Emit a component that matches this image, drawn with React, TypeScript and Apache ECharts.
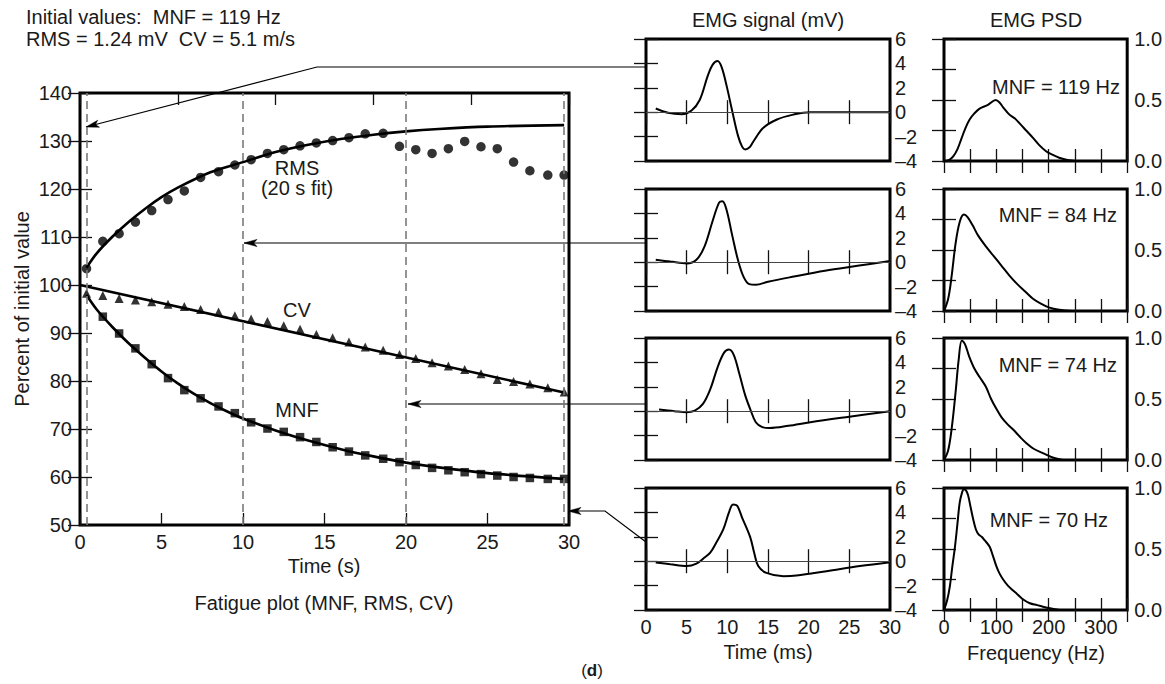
import React, { useEffect, useRef } from 'react';
import * as echarts from 'echarts';

// ---------------- data ----------------
const sampleTimes = [0.4, 1.4, 2.4, 3.4, 4.4, 5.4, 6.4, 7.4, 8.5, 9.5, 10.5, 11.5, 12.5, 13.5, 14.5, 15.5, 16.5, 17.5, 18.6, 19.6, 20.6, 21.6, 22.6, 23.6, 24.6, 25.6, 26.6, 27.6, 28.7, 29.7];
const rmsValues = [103.4, 109.1, 110.7, 113.1, 115.5, 117.8, 119.6, 122.4, 123.6, 125.0, 126.1, 127.4, 128.2, 129.0, 129.6, 130.1, 130.7, 131.5, 131.6, 128.9, 128.2, 127.4, 128.4, 129.9, 128.8, 128.4, 125.6, 123.8, 122.9, 122.9];
const cvValues = [98.3, 97.8, 97.2, 96.9, 96.5, 96.0, 95.5, 94.9, 94.4, 93.6, 92.9, 92.4, 91.5, 90.8, 89.7, 89.0, 88.1, 87.1, 86.4, 85.5, 84.7, 83.8, 83.1, 82.4, 81.5, 80.3, 79.9, 79.4, 78.6, 77.7];
const mnfValues = [null, 93.4, 89.9, 86.8, 83.5, 80.6, 78.1, 76.4, 74.7, 73.3, 71.4, 70.1, 69.4, 68.3, 67.3, 66.2, 65.3, 64.5, 63.8, 63.1, 62.5, 61.9, 61.4, 61.0, 60.6, 60.3, 60.0, 59.8, 59.6, 59.6];

const rmsFitTimes = [0.4, 1, 2, 3, 4, 5, 6, 8, 10, 12, 14, 16, 18, 20, 22, 25, 29.7];
const rmsFitValues = [103.6, 106.5, 110.1, 113.2, 115.9, 118.3, 120.3, 123.5, 125.6, 127.7, 129.2, 130.4, 131.3, 132.0, 132.5, 133.0, 133.3];
const cvFitTimes = [0, 29.7];
const cvFitValues = [100, 77.6];
const mnfFitTimes = [0.4, 1, 2, 3, 4, 5, 6, 7, 8, 9, 10, 12, 14, 16, 18, 20, 22, 25, 29.7];
const mnfFitValues = [97.9, 95.0, 91.2, 87.8, 84.8, 82.0, 79.5, 77.3, 75.4, 73.7, 72.2, 69.7, 67.6, 65.8, 64.3, 63.0, 62.0, 60.8, 59.6];
const markedTimes = [0.4, 10, 20, 29.7];

// EMG signal (time ms, mV)
const emg1 = [[1.2, 0.3], [2.7, -0.05], [4.4, -0.16], [5.6, 0.14], [6.6, 1.0], [7.6, 3.0], [8.2, 3.9], [8.8, 4.2], [9.3, 3.7], [9.9, 2.2], [10.6, 0.1], [11.3, -1.9], [11.8, -2.8], [12.2, -3.05], [12.7, -2.9], [13.2, -2.4], [14.4, -1.3], [16.1, -0.6], [18.1, -0.2], [20.2, 0], [30, 0]];
const emg2 = [[1.2, 0.2], [3, 0.05], [5, -0.1], [6.2, 0.2], [7.2, 1.3], [8.2, 3.4], [9.0, 4.9], [9.4, 5.0], [9.9, 4.3], [10.6, 2.2], [11.3, 0.2], [12.0, -1.2], [12.7, -1.8], [13.5, -1.85], [15, -1.6], [18, -1.2], [22, -0.7], [26, -0.3], [30, 0.1]];
const emg3 = [[1.6, 0.13], [3.5, 0], [5.0, -0.08], [6.0, 0.05], [7.0, 0.6], [7.9, 1.8], [8.8, 3.6], [9.6, 4.8], [10.2, 5.05], [10.8, 4.6], [11.5, 3.0], [12.2, 1.3], [12.8, 0.2], [13.5, -0.9], [14.3, -1.3], [15.2, -1.38], [17.5, -1.2], [20.2, -0.9], [25, -0.45], [30, 0]];
const emg4 = [[1.2, -0.1], [3, -0.25], [5, -0.4], [6.2, -0.2], [7.2, 0.3], [7.9, 0.7], [8.7, 1.6], [9.5, 2.6], [10.2, 4.0], [10.7, 4.65], [11.2, 4.55], [11.8, 3.6], [12.8, 2.0], [13.3, 0.7], [13.8, -0.4], [14.8, -0.96], [16.9, -1.23], [18.5, -1.18], [22.2, -0.82], [26.3, -0.4], [30, -0.08]];

// EMG PSD (frequency Hz, normalised power)
const psd1 = [[0, 0], [10, 0.01], [18, 0.04], [26, 0.1], [33, 0.18], [41, 0.27], [49, 0.34], [58, 0.39], [68, 0.43], [84, 0.46], [99, 0.5], [106, 0.48], [113, 0.44], [125, 0.38], [135, 0.35], [144, 0.31], [157, 0.25], [170, 0.19], [182, 0.13], [195, 0.08], [208, 0.05], [220, 0.027], [236, 0.008], [252, 0]];
const psd2 = [[0, 0], [8, 0.1], [15, 0.3], [22, 0.55], [30, 0.73], [38, 0.79], [45, 0.77], [55, 0.7], [65, 0.62], [80, 0.53], [95, 0.45], [110, 0.37], [125, 0.29], [140, 0.22], [155, 0.16], [170, 0.1], [185, 0.06], [200, 0.03], [220, 0.01], [245, 0]];
const psd3 = [[0, 0], [8, 0.08], [15, 0.27], [22, 0.55], [28, 0.82], [34, 0.98], [40, 0.95], [48, 0.85], [58, 0.75], [68, 0.68], [80, 0.6], [90, 0.5], [100, 0.42], [110, 0.35], [122, 0.29], [132, 0.25], [145, 0.19], [157, 0.14], [172, 0.09], [189, 0.056], [205, 0.025], [227, 0]];
const psd4 = [[0, 0], [6, 0.08], [11, 0.19], [16, 0.36], [21, 0.52], [26, 0.72], [30, 0.88], [35, 0.97], [38, 0.99], [42, 0.98], [46, 0.94], [51, 0.84], [56, 0.74], [61, 0.66], [66, 0.62], [72, 0.6], [78, 0.57], [87, 0.52], [93, 0.45], [100, 0.36], [106, 0.3], [113, 0.25], [122, 0.2], [132, 0.16], [140, 0.13], [150, 0.09], [164, 0.055], [178, 0.04], [189, 0.027], [205, 0.012], [221, 0]];
const mnfLabels = ['MNF = 119 Hz', 'MNF = 84 Hz', 'MNF = 74 Hz', 'MNF = 70 Hz'];

// ---------------- layout ----------------
const FONT = '"Liberation Sans", Arial, Helvetica, sans-serif';
const FS = 20;
const MAIN = { left: 80, top: 93, width: 489, height: 432 };
const EMG_LEFT = 646, EMG_W = 244;
const PSD_LEFT = 944, PSD_W = 184;
const ROW_TOPS = [39, 189, 338, 488];
const ROW_H = 122;

const tickStyle = { color: '#111', width: 1.3 };

function arrowHead(from: number[], to: number[], len = 13, half = 3.6) {
  const dx = to[0] - from[0], dy = to[1] - from[1];
  const L = Math.hypot(dx, dy);
  const ux = dx / L, uy = dy / L;
  const nx = -uy, ny = ux;
  const bx = to[0] - ux * len, by = to[1] - uy * len;
  const mx = to[0] - ux * len * 0.75, my = to[1] - uy * len * 0.75;
  return [[to[0], to[1]], [bx + nx * half, by + ny * half], [mx, my], [bx - nx * half, by - ny * half]];
}

function txt(text: string, x: number, y: number, align = 'center', extra: any = {}) {
  return {
    type: 'text', x, y, silent: true, ...extra,
    style: { text, fill: '#1a1a1a', font: `${FS}px ${FONT}`, textAlign: align, textVerticalAlign: 'middle', ...(extra.style || {}) },
  };
}

function buildOption() {
  const grids: any[] = [];
  const xAxes: any[] = [];
  const yAxes: any[] = [];
  const series: any[] = [];

  const addFrame = (rect: any, xb: any, xt: any, yl: any, yr: any) => {
    const gi = grids.length;
    grids.push({ ...rect, show: true, borderColor: '#000', borderWidth: 3, backgroundColor: 'transparent' });
    const baseX = (cfg: any, pos: string) => ({
      gridIndex: gi, type: 'value', position: pos, min: cfg.min, max: cfg.max, interval: cfg.interval,
      axisLine: { show: false },
      axisTick: { show: true, inside: true, length: 12, lineStyle: tickStyle },
      axisLabel: { show: !!cfg.labels, fontSize: FS, fontFamily: FONT, color: '#1a1a1a', margin: cfg.margin ?? 7, formatter: cfg.formatter, showMinLabel: true, showMaxLabel: true, hideOverlap: false },
      splitLine: { show: false },
    });
    const xi = xAxes.length;
    xAxes.push(baseX(xb, 'bottom'));
    xAxes.push(baseX(xt, 'top'));
    const yi = yAxes.length;
    yAxes.push(baseX(yl, 'left'));
    yAxes.push(baseX(yr, 'right'));
    return { xi, yi };
  };

  // ---- main fatigue plot ----
  const m = addFrame(
    MAIN,
    { min: 0, max: 30, interval: 5, labels: true },
    { min: 0, max: 30, interval: 6 },
    { min: 50, max: 140, interval: 10, labels: true, margin: 8 },
    { min: 50, max: 140, interval: 10 },
  );
  const mainAxes = { xAxisIndex: m.xi, yAxisIndex: m.yi };
  const zip = (a: number[], b: (number | null)[]) => a.map((t, i) => [t, b[i]]).filter((p) => p[1] !== null);

  series.push({
    type: 'line', ...mainAxes, data: [], silent: true,
    markLine: {
      silent: true, symbol: ['none', 'none'], label: { show: false }, animation: false,
      lineStyle: { type: [8, 5], color: '#7a7a7a', width: 1.6 },
      data: markedTimes.map((t) => ({ xAxis: t })),
    },
  });
  const fitLine = (times: number[], vals: number[]) => ({
    type: 'line', ...mainAxes, data: zip(times, vals), smooth: 0.3, symbol: 'none', silent: true,
    lineStyle: { color: '#000', width: 2.6 },
  });
  series.push(fitLine(rmsFitTimes, rmsFitValues));
  series.push(fitLine(cvFitTimes, cvFitValues));
  series.push(fitLine(mnfFitTimes, mnfFitValues));
  const pts = (vals: (number | null)[], symbol: string, size: number) => ({
    type: 'scatter', ...mainAxes, data: zip(sampleTimes, vals), symbol, symbolSize: size, silent: true,
    itemStyle: { color: '#000' },
  });
  series.push(pts(rmsValues, 'circle', 9.5));
  series.push(pts(mnfValues, 'rect', 8.5));
  series.push(pts(cvValues, 'triangle', 9));

  // ---- EMG signal panels ----
  const emgSets = [emg1, emg2, emg3, emg4];
  const psdSets = [psd1, psd2, psd3, psd4];
  const dashFmt = (v: number) => (v < 0 ? '\u2013' + Math.abs(v) : String(v));
  emgSets.forEach((d, i) => {
    const last = i === 3;
    const a = addFrame(
      { left: EMG_LEFT, top: ROW_TOPS[i], width: EMG_W, height: ROW_H },
      { min: 0, max: 30, interval: 5, labels: last },
      { min: 0, max: 30, interval: 5 },
      { min: -4, max: 6, interval: 2 },
      { min: -4, max: 6, interval: 2, labels: true, margin: 5, formatter: dashFmt },
    );
    series.push({
      type: 'line', xAxisIndex: a.xi, yAxisIndex: a.yi, data: d, smooth: 0.35, symbol: 'none', silent: true,
      lineStyle: { color: '#000', width: 2 },
      markLine: {
        silent: true, symbol: ['none', 'none'], label: { show: false }, animation: false,
        lineStyle: { type: 'solid', color: '#444', width: 1 },
        data: [{ yAxis: 0 }],
      },
    });
  });

  // ---- PSD panels ----
  psdSets.forEach((d, i) => {
    const last = i === 3;
    const a = addFrame(
      { left: PSD_LEFT, top: ROW_TOPS[i], width: PSD_W, height: ROW_H },
      { min: 0, max: 350, interval: 50, labels: last, formatter: (v: number) => (v % 100 === 0 ? String(v) : '') },
      { min: 0, max: 350, interval: 50 },
      { min: 0, max: 1, interval: 0.25 },
      { min: 0, max: 1, interval: 0.25, labels: true, margin: 7, formatter: (v: number) => (v === 0 || v === 0.5 || v === 1 ? v.toFixed(1) : '') },
    );
    series.push({
      type: 'line', xAxisIndex: a.xi, yAxisIndex: a.yi, data: d, smooth: 0.35, symbol: 'none', silent: true,
      lineStyle: { color: '#000', width: 2 },
    });
  });

  // ---- annotations ----
  const mnfX = [1120, 1117, 1117, 1108];
  const mnfY = [87, 215, 365, 520];
  const arrows = [
    [[EMG_LEFT, 67], [317, 67], [86, 127]],
    [[EMG_LEFT, 243], [244, 243]],
    [[EMG_LEFT, 404], [408, 404]],
    [[EMG_LEFT, 542], [605, 511], [568, 511]],
  ];
  const graphic: any[] = [
    txt('Initial values:  MNF = 119 Hz', 26, 17, 'left'),
    txt('RMS = 1.24 mV  CV = 5.1 m/s', 26, 39, 'left'),
    txt('EMG signal (mV)', 768, 20),
    txt('EMG PSD', 1036, 20),
    txt('RMS', 297, 168),
    txt('(20 s fit)', 297, 188),
    txt('CV', 297, 310),
    txt('MNF', 297, 410),
    txt('Percent of initial value', 22, 309, 'center', { rotation: Math.PI / 2 }),
    txt('Time (s)', 324, 566),
    txt('Fatigue plot (MNF, RMS, CV)', 324, 603),
    txt('Time (ms)', 768, 652),
    txt('Frequency (Hz)', 1036, 653),
    {
      type: 'text', x: 592, y: 670, silent: true,
      style: { text: '({b|d})', fill: '#1a1a1a', font: `17px ${FONT}`, textAlign: 'center', textVerticalAlign: 'middle', rich: { b: { fontWeight: 'bold', fontSize: 17, fontFamily: FONT } } },
    },
    ...mnfLabels.map((s, i) => txt(s, mnfX[i], mnfY[i], 'right')),
  ];
  arrows.forEach((pts) => {
    graphic.push({ type: 'polyline', silent: true, shape: { points: pts }, style: { stroke: '#000', lineWidth: 1.2, fill: null } });
    graphic.push({ type: 'polygon', silent: true, shape: { points: arrowHead(pts[pts.length - 2], pts[pts.length - 1]) }, style: { fill: '#000', stroke: '#000', lineWidth: 0.5 } });
  });

  return {
    animation: false,
    backgroundColor: '#fff',
    textStyle: { fontFamily: FONT },
    grid: grids,
    xAxis: xAxes,
    yAxis: yAxes,
    series,
    graphic,
  };
}

export default function App() {
  const ref = useRef<HTMLDivElement>(null);
  useEffect(() => {
    if (!ref.current) return;
    const chart = echarts.init(ref.current, undefined, { renderer: 'svg', width: 1165, height: 684 });
    chart.setOption(buildOption() as any);
    return () => chart.dispose();
  }, []);
  return <div ref={ref} style={{ position: 'fixed', left: 0, top: 0, width: 1165, height: 684, background: '#fff' }} />;
}
